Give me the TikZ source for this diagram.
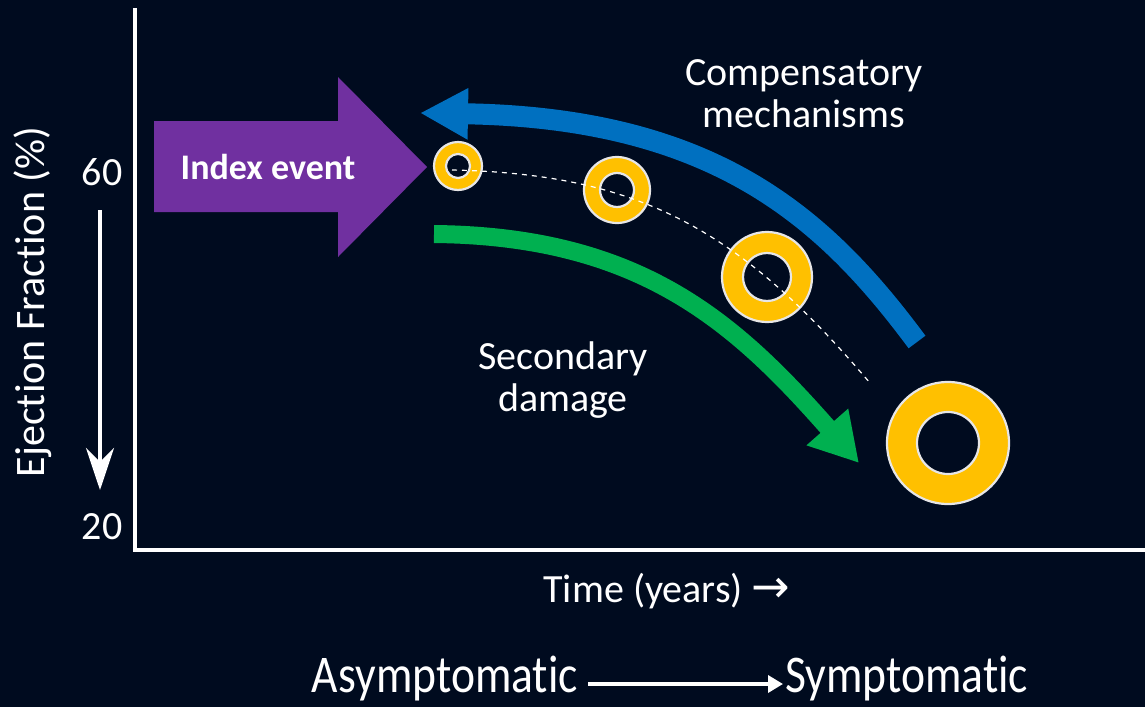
\documentclass[tikz,border=0pt]{standalone}
\usepackage{fontspec}
\setmainfont{Carlito}[Ligatures=NoCommon]
\newfontfamily\symf{DejaVu Sans}
\usetikzlibrary{arrows.meta}
\definecolor{bg}{RGB}{0,11,31}
\definecolor{pblue}{RGB}{0,112,192}
\definecolor{pgreen}{RGB}{0,176,80}
\definecolor{ppurple}{RGB}{112,48,160}
\definecolor{pgold}{RGB}{255,192,0}
\definecolor{pedge}{RGB}{231,230,230}
\tikzset{
  lbl/.style={text=white, font=\fontsize{40}{48}\selectfont, align=center, inner sep=0pt},
  ringouter/.style={fill=pgold, draw=pedge, line width=2.2},
  ringinner/.style={fill=bg, draw=pedge, line width=2.2},
  bigarrow/.style={line width=21, line cap=butt},
  bottomtext/.style={text=white, font=\fontsize{53}{60}\selectfont, inner sep=0pt, xscale=0.86},
}
\begin{document}
\begin{tikzpicture}[x=1pt,y=-1pt]
\fill[bg] (0,0) rectangle (1145,707);
\useasboundingbox (0,0) rectangle (1145,707);

% axes
\coordinate (ytop) at (135,8);
\coordinate (origin) at (135,550);
\coordinate (xend) at (1145,550);
\draw[white, line width=4] (ytop) -- (origin) -- (xend);

% y-axis labels
\node[lbl] (y60) at (102,172) {60};
\node[lbl] (y20) at (102,527) {20};
\node[lbl, font=\fontsize{42}{48}\selectfont, rotate=90] (ylab) at (33,302) {Ejection Fraction (\%)};
\coordinate (dtop) at (100,210);
\coordinate (dbot) at (100,490);
\draw[white, line width=4, -{Stealth[length=42,width=28,inset=14]}] (dtop) -- (dbot);

% index event arrow
\fill[ppurple] (154,121) -- (338,121) -- (338,77) -- (427,167) -- (338,257) -- (338,212) -- (154,212) -- cycle;
\node[text=white, font=\fontsize{36}{40}\selectfont\bfseries, inner sep=0pt] (idx) at (268,167) {Index event};

% blue arrow (compensatory)
\coordinate (bstart) at (917,342);
\coordinate (bend) at (420,113);
\draw[bigarrow, pblue, -{Triangle[length=48,width=48]}] (bstart) .. controls (825,218) and (715,118) .. (bend);

% green arrow (secondary damage)
\coordinate (gstart) at (434,234);
\coordinate (gend) at (859,463);
\draw[bigarrow, line width=18, pgreen, -{Triangle[length=48,width=52]}] (gstart) .. controls (640,236) and (735,322) .. (gend);

% rings
\coordinate (r1) at (458,166);
\coordinate (r2) at (617,190);
\coordinate (r3) at (767,277);
\coordinate (r4) at (948,443);
\draw[ringouter] (r1) circle (24);
\draw[ringinner] (r1) circle (12);
\draw[ringouter] (r2) circle (33);
\draw[ringinner] (r2) circle (17);
\draw[ringouter] (r3) circle (45);
\draw[ringinner] (r3) circle (24);
\draw[ringouter] (r4) circle (61);
\draw[ringinner] (r4) circle (31);

% dashed trend line
\coordinate (dstart) at (452,170);
\coordinate (dend) at (870,383);
\draw[white, line width=1.2, dash pattern=on 5 off 5] (dstart) .. controls (640,174) and (740,230) .. (dend);

% text labels
\node[lbl] (comp) at (804,94) {Compensatory\\[-6pt]mechanisms};
\node[lbl] (sec) at (563,380) {Secondary\\[-6pt]damage};
\node[lbl] (time) at (667,591) {Time (years) {\symf\fontsize{46}{48}\selectfont →}};

% bottom
\node[bottomtext, anchor=base east] (asym) at (578,692) {Asymptomatic};
\node[bottomtext, anchor=base west] (sym) at (785,692) {Symptomatic};
\coordinate (aa) at (588,684);
\coordinate (ab) at (783,684);
\draw[white, line width=3.5, -{Triangle[length=15,width=17]}] (aa) -- (ab);
\end{tikzpicture}
\end{document}
